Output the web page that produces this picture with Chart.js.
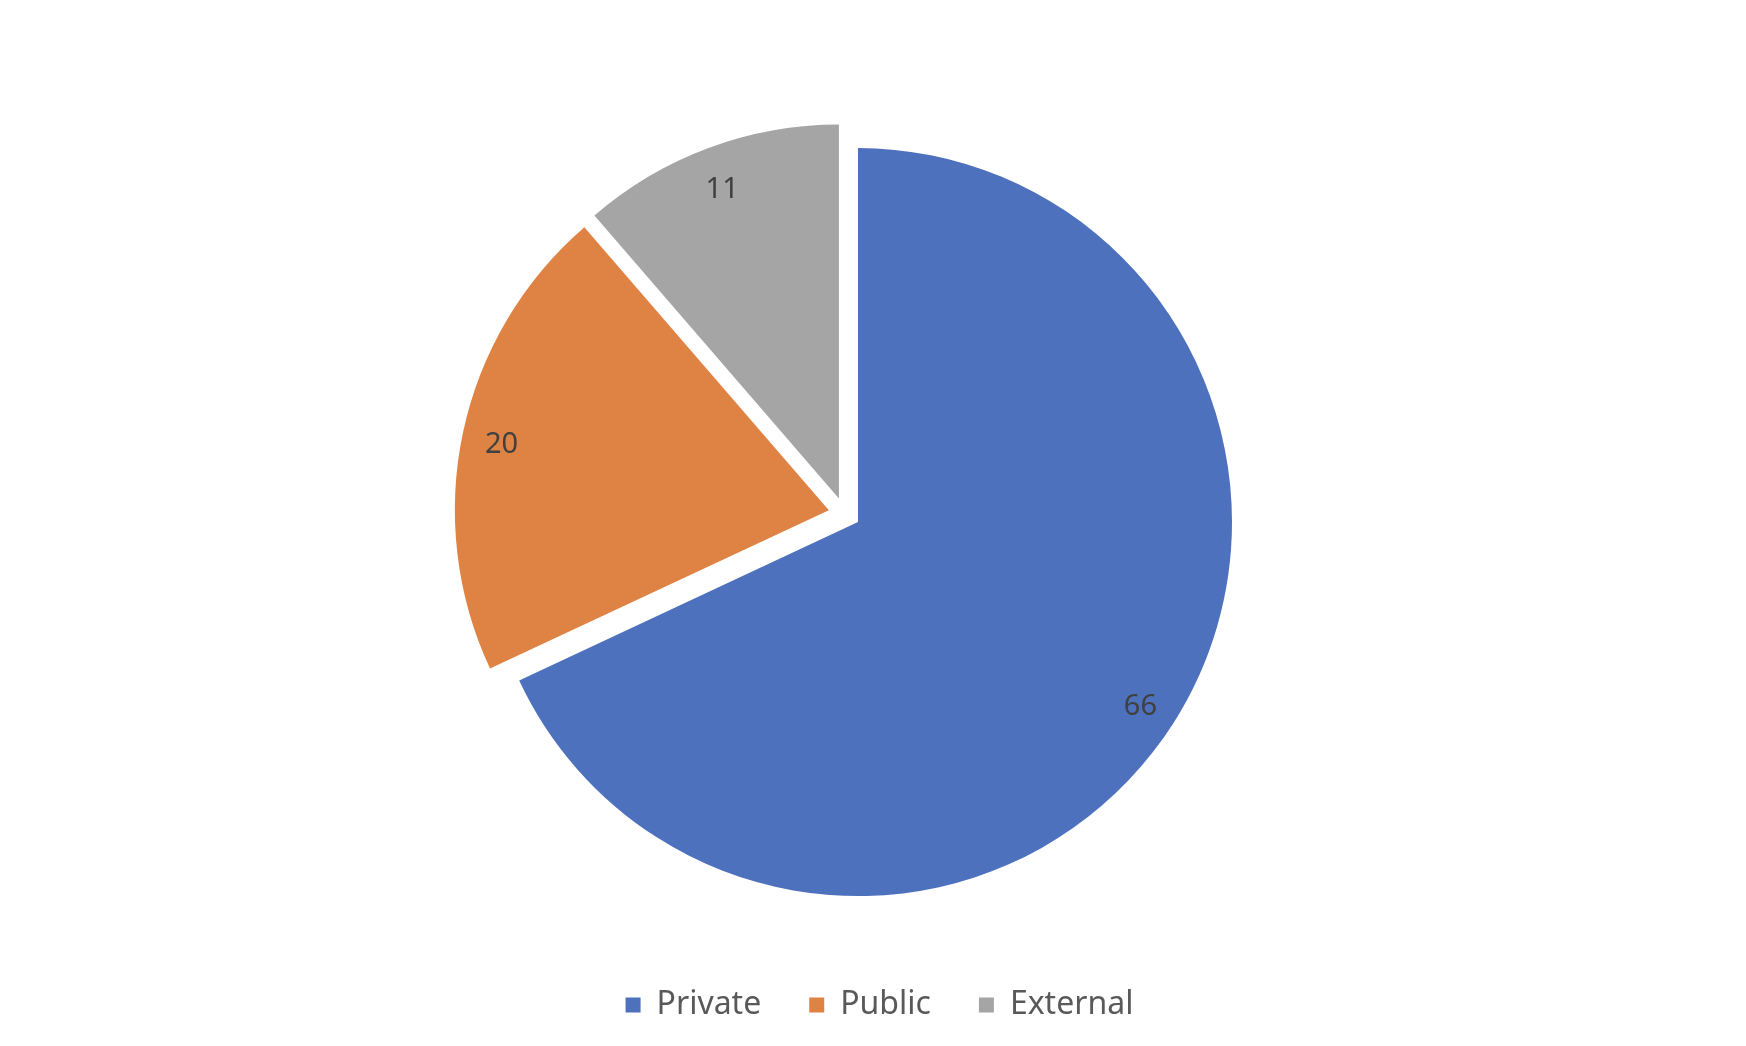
<!DOCTYPE html>
<html lang="en">

<head>
    <meta charset="utf-8">
    <title>Private / Public / External</title>

    <!-- Chart.js JS -->
    <script src="https://cdn.jsdelivr.net/npm/chart.js@4.4.0/dist/chart.umd.min.js"></script>

    <style>
        body {
            margin: 0;
            background-color: #ffffff;
            overflow: hidden;
        }

        .chart-box {
            position: relative;
            width: 1746px;
            height: 1046px;
        }
    </style>
</head>

<body>
    <div class="chart-box">
        <canvas id="myChart"></canvas>
    </div>
</body>

<script>
    var sectors = ["Private", "Public", "External"];
    var shares = [66, 20, 11];
    var sectorColors = ["#4e71be", "#df8344", "#a5a5a5"];

    var explodePx = 16;

    // the built-in offset also grows the radius, so slide each arc out by hand
    let explodeSlices = {
        id: 'explodeSlices',
        beforeDatasetDraw: (chart, args) => {
            let ctx = chart.ctx;
            args.meta.data.forEach((arc) => {
                let p = arc.getProps(['startAngle', 'endAngle'], true);
                let mid = (p.startAngle + p.endAngle) / 2;
                ctx.save();
                ctx.translate(Math.cos(mid) * explodePx, Math.sin(mid) * explodePx);
                arc.draw(ctx);
                ctx.restore();
            });
            return false;
        }
    };

    // value labels drawn inside each slice, close to the rim
    let sliceLabels = {
        id: 'sliceLabels',
        afterDatasetsDraw: (chart) => {
            let ctx = chart.ctx;
            let meta = chart.getDatasetMeta(0);
            ctx.save();
            ctx.font = '29px "Noto Sans"';
            ctx.fillStyle = '#404040';
            ctx.textAlign = 'center';
            ctx.textBaseline = 'middle';
            meta.data.forEach((arc, i) => {
                let p = arc.getProps(['x', 'y', 'startAngle', 'endAngle', 'outerRadius'], true);
                let mid = (p.startAngle + p.endAngle) / 2;
                let r = explodePx + p.outerRadius * 0.895;
                // digits sit a little high on the 'middle' baseline
                ctx.fillText(chart.data.datasets[0].data[i], p.x + Math.cos(mid) * r, p.y + Math.sin(mid) * r + 5);
            });
            ctx.restore();
        }
    };

    // legend keeps wide item spacing but sits low, near the bottom edge,
    // and is centred on the page rather than on the pie
    let legendPlace = {
        id: 'legendPlace',
        beforeLayout: (chart) => {
            let legend = chart.legend;
            if (!legend || legend._patched) return;
            let origFit = legend.fit;
            legend.fit = function () {
                origFit.call(this);
                this.height = 105;
            };
            legend._patched = true;
        },
        afterLayout: (chart) => {
            chart.legend.left += 35;
            chart.legend.right += 35;
        }
    };

    let showChart = () => {
        new Chart(document.getElementById('myChart'), {
            type: 'pie',
            data: {
                labels: sectors,
                datasets: [{
                    data: shares,
                    backgroundColor: sectorColors,
                    borderWidth: 0
                }]
            },
            options: {
                responsive: true,
                maintainAspectRatio: false,
                animation: false,
                events: [],
                radius: 374,
                layout: {
                    padding: { top: 86, left: 0, right: 57, bottom: 0 }
                },
                plugins: {
                    tooltip: { enabled: false },
                    legend: {
                        position: 'bottom',
                        labels: {
                            boxWidth: 15,
                            boxHeight: 15,
                            padding: 48,
                            color: '#595959',
                            font: { family: '"Noto Sans"', size: 32, lineHeight: 1 }
                        }
                    }
                }
            },
            plugins: [explodeSlices, sliceLabels, legendPlace]
        });
    };

    showChart();
</script>

</html>
